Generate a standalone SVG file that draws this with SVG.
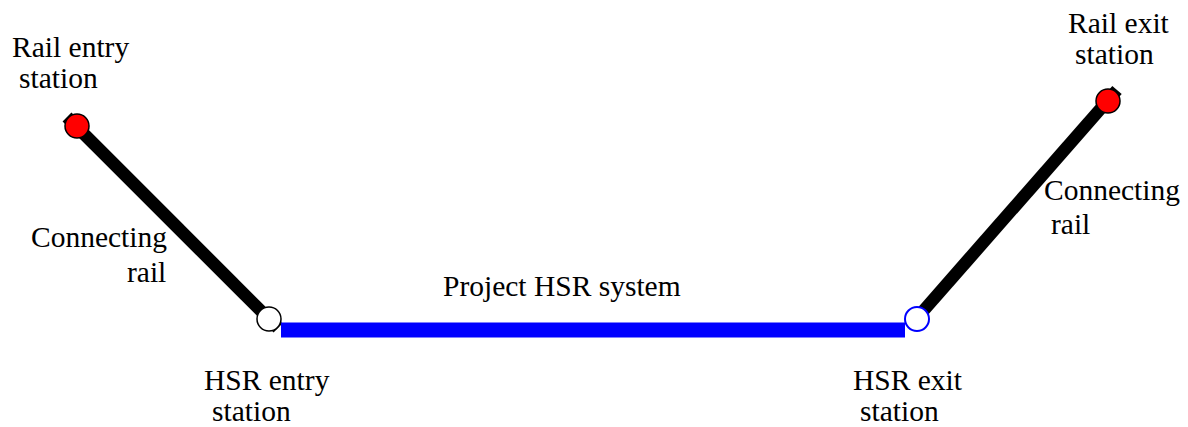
<svg xmlns="http://www.w3.org/2000/svg" width="1188" height="427" viewBox="0 0 1188 427">
<style>
.lbl{font-family:"Liberation Serif","Times New Roman",serif;font-size:29.5px;fill:#000}
.rail{stroke:#000;stroke-width:12.5;fill:none}
.hsr{stroke:#0000ff;stroke-width:15;fill:none}
</style>
<rect width="1188" height="427" fill="#fff"/>
<g id="connectors">
<line id="left-rail" class="rail" x1="67" y1="117" x2="278" y2="328"/>
<line id="right-rail" class="rail" x1="1117" y1="90" x2="910" y2="326"/>
<line id="hsr" class="hsr" x1="281" y1="330" x2="905" y2="330"/>
</g>
<g id="rail-entry"><circle cx="77" cy="126" r="12" fill="#ff0000" stroke="#000" stroke-width="1.5"/></g>
<g id="hsr-entry"><circle cx="269" cy="319" r="12" fill="#fff" stroke="#000" stroke-width="1.5"/></g>
<g id="hsr-exit"><circle cx="917" cy="319" r="12" fill="#fff" stroke="#0000ff" stroke-width="2"/></g>
<g id="rail-exit"><circle cx="1108" cy="101" r="12" fill="#ff0000" stroke="#000" stroke-width="1.5"/></g>
<g id="labels">
<text class="lbl" x="12" y="57">Rail entry</text>
<text class="lbl" x="19" y="88">station</text>
<text class="lbl" x="31" y="247">Connecting</text>
<text class="lbl" x="127" y="282">rail</text>
<text class="lbl" x="443" y="296">Project HSR system</text>
<text class="lbl" x="204" y="390">HSR entry</text>
<text class="lbl" x="212" y="421">station</text>
<text class="lbl" x="853" y="390">HSR exit</text>
<text class="lbl" x="860" y="421">station</text>
<text class="lbl" x="1068" y="33">Rail exit</text>
<text class="lbl" x="1075" y="64">station</text>
<text class="lbl" x="1044" y="200">Connecting</text>
<text class="lbl" x="1051" y="234">rail</text>
</g>
</svg>
